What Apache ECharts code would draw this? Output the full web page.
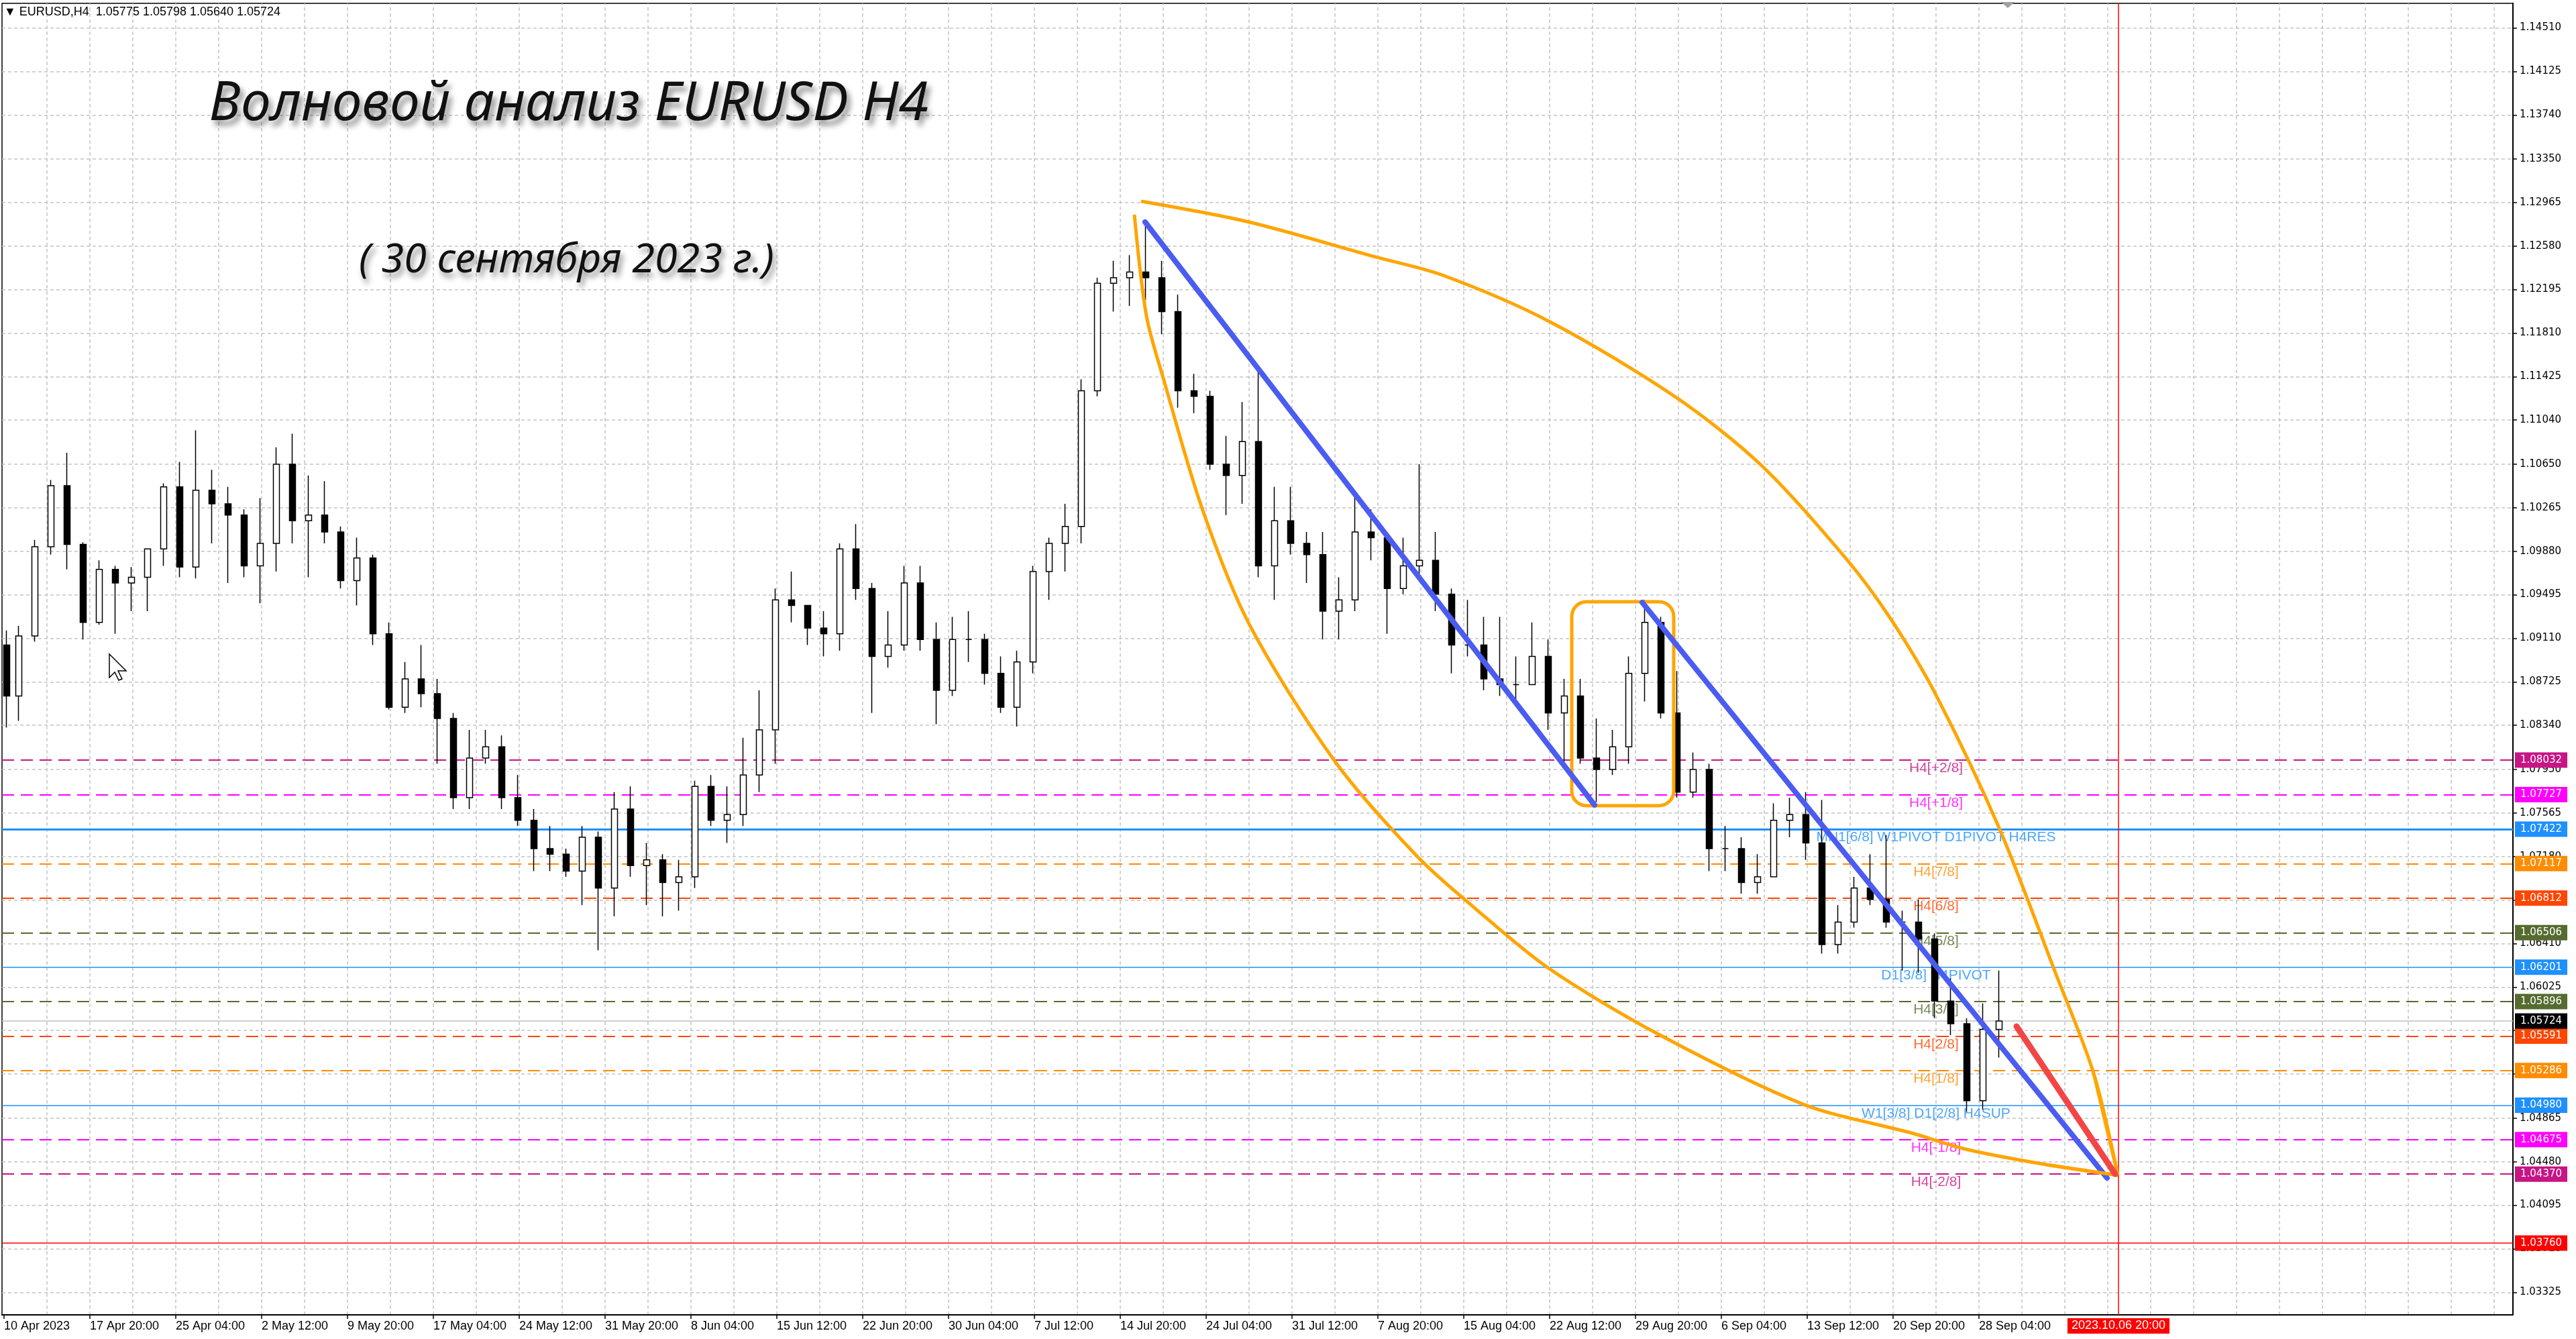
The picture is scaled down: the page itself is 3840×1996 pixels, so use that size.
<!DOCTYPE html>
<html>
<head>
<meta charset="utf-8">
<title>EURUSD H4</title>
<script src="https://cdn.jsdelivr.net/npm/echarts@6/dist/echarts.min.js"></script>
<style>
  html, body { margin: 0; padding: 0; background: #fff; }
  #chart { width: 3840px; height: 1996px; }
</style>
</head>
<body>
<div id="chart"></div>
<script>
// --- price data: one candle per trading day (H4 chart, 6 bars a day, first day from 12:00)
const days = [
  '10 Apr', '11 Apr', '12 Apr', '13 Apr', '14 Apr',
  '17 Apr', '18 Apr', '19 Apr', '20 Apr', '21 Apr',
  '24 Apr', '25 Apr', '26 Apr', '27 Apr', '28 Apr',
  '1 May', '2 May', '3 May', '4 May', '5 May',
  '8 May', '9 May', '10 May', '11 May', '12 May',
  '15 May', '16 May', '17 May', '18 May', '19 May',
  '22 May', '23 May', '24 May', '25 May', '26 May',
  '29 May', '30 May', '31 May', '1 Jun', '2 Jun',
  '5 Jun', '6 Jun', '7 Jun', '8 Jun', '9 Jun',
  '12 Jun', '13 Jun', '14 Jun', '15 Jun', '16 Jun',
  '19 Jun', '20 Jun', '21 Jun', '22 Jun', '23 Jun',
  '26 Jun', '27 Jun', '28 Jun', '29 Jun', '30 Jun',
  '3 Jul', '4 Jul', '5 Jul', '6 Jul', '7 Jul',
  '10 Jul', '11 Jul', '12 Jul', '13 Jul', '14 Jul',
  '17 Jul', '18 Jul', '19 Jul', '20 Jul', '21 Jul',
  '24 Jul', '25 Jul', '26 Jul', '27 Jul', '28 Jul',
  '31 Jul', '1 Aug', '2 Aug', '3 Aug', '4 Aug',
  '7 Aug', '8 Aug', '9 Aug', '10 Aug', '11 Aug',
  '14 Aug', '15 Aug', '16 Aug', '17 Aug', '18 Aug',
  '21 Aug', '22 Aug', '23 Aug', '24 Aug', '25 Aug',
  '28 Aug', '29 Aug', '30 Aug', '31 Aug', '1 Sep',
  '4 Sep', '5 Sep', '6 Sep', '7 Sep', '8 Sep',
  '11 Sep', '12 Sep', '13 Sep', '14 Sep', '15 Sep',
  '18 Sep', '19 Sep', '20 Sep', '21 Sep', '22 Sep',
  '25 Sep', '26 Sep', '27 Sep', '28 Sep', '29 Sep'
];
const open = [
  1.0905, 1.0860, 1.0913, 1.0992, 1.1046,
  1.0994, 1.0925, 1.0972, 1.0960, 1.0965,
  1.0990, 1.1045, 1.0974, 1.1042, 1.1030,
  1.1020, 1.0975, 1.0995, 1.1065, 1.1015,
  1.1020, 1.1005, 1.0962, 1.0982, 1.0915,
  1.0850, 1.0875, 1.0862, 1.0840, 1.0770,
  1.0805, 1.0815, 1.0770, 1.0750, 1.0725,
  1.0720, 1.0705, 1.0735, 1.0690, 1.0760,
  1.0710, 1.0715, 1.0695, 1.0700, 1.0780,
  1.0750, 1.0755, 1.0790, 1.0830, 1.0945,
  1.0940, 1.0920, 1.0915, 1.0990, 1.0955,
  1.0895, 1.0905, 1.0960, 1.0910, 1.0865,
  1.0910, 1.0910, 1.0880, 1.0850, 1.0890,
  1.0970, 1.0995, 1.1010, 1.1130, 1.1225,
  1.1230, 1.1235, 1.1230, 1.1200, 1.1130,
  1.1125, 1.1065, 1.1055, 1.1085, 1.0975,
  1.1015, 1.0995, 1.0985, 1.0935, 1.0945,
  1.1005, 1.1000, 1.0955, 1.0975, 1.0980,
  1.0950, 1.0905, 1.0905, 1.0875, 1.0870,
  1.0870, 1.0895, 1.0845, 1.0860, 1.0805,
  1.0795, 1.0815, 1.0880, 1.0925, 1.0845,
  1.0775, 1.0795, 1.0725, 1.0725, 1.0695,
  1.0700, 1.0750, 1.0755, 1.0730, 1.0640,
  1.0660, 1.0690, 1.0680, 1.0660, 1.0660,
  1.0645, 1.0590, 1.0570, 1.0502, 1.0565
];
const high = [
  1.0918, 1.0922, 1.0998, 1.1051, 1.1075,
  1.0996, 1.0980, 1.0975, 1.0974, 1.0990,
  1.1048, 1.1067, 1.1095, 1.1060, 1.1045,
  1.1025, 1.1035, 1.1080, 1.1092, 1.1055,
  1.1050, 1.1010, 1.1000, 1.0985, 1.0925,
  1.0890, 1.0905, 1.0875, 1.0845, 1.0830,
  1.0830, 1.0825, 1.0790, 1.0760, 1.0745,
  1.0725, 1.0745, 1.0740, 1.0775, 1.0780,
  1.0730, 1.0720, 1.0715, 1.0785, 1.0790,
  1.0780, 1.0823, 1.0865, 1.0955, 1.0970,
  1.0940, 1.0935, 1.0995, 1.1012, 1.0960,
  1.0935, 1.0975, 1.0975, 1.0925, 1.0930,
  1.0935, 1.0915, 1.0895, 1.0900, 1.0975,
  1.1000, 1.1030, 1.1140, 1.1230, 1.1245,
  1.1250, 1.1276, 1.1245, 1.1215, 1.1145,
  1.1130, 1.1090, 1.1120, 1.1150, 1.1045,
  1.1045, 1.1005, 1.1005, 1.0965, 1.1040,
  1.1025, 1.1005, 1.1000, 1.1065, 1.1005,
  1.0955, 1.0945, 1.0930, 1.0930, 1.0895,
  1.0925, 1.0910, 1.0875, 1.0875, 1.0840,
  1.0830, 1.0895, 1.0945, 1.0930, 1.0882,
  1.0810, 1.0800, 1.0745, 1.0735, 1.0720,
  1.0765, 1.0770, 1.0775, 1.0768, 1.0675,
  1.0700, 1.0720, 1.0737, 1.0670, 1.0680,
  1.0650, 1.0610, 1.0575, 1.0588, 1.0617
];
const low = [
  1.0832, 1.0838, 1.0908, 1.0985, 1.0972,
  1.0910, 1.0923, 1.0915, 1.0935, 1.0935,
  1.0975, 1.0965, 1.0964, 1.0995, 1.0960,
  1.0965, 1.0942, 1.0970, 1.0995, 1.0965,
  1.0995, 1.0955, 1.0940, 1.0905, 1.0848,
  1.0845, 1.0850, 1.0800, 1.0760, 1.0760,
  1.0800, 1.0760, 1.0745, 1.0705, 1.0705,
  1.0700, 1.0675, 1.0635, 1.0665, 1.0700,
  1.0675, 1.0665, 1.0670, 1.0690, 1.0745,
  1.0730, 1.0745, 1.0775, 1.0800, 1.0925,
  1.0905, 1.0895, 1.0900, 1.0945, 1.0845,
  1.0885, 1.0900, 1.0900, 1.0835, 1.0860,
  1.0890, 1.0870, 1.0845, 1.0833, 1.0880,
  1.0945, 1.0970, 1.0995, 1.1125, 1.1200,
  1.1205, 1.1210, 1.1180, 1.1115, 1.1110,
  1.1060, 1.1020, 1.1030, 1.0965, 1.0945,
  1.0985, 1.0960, 1.0910, 1.0910, 1.0935,
  1.0980, 1.0915, 1.0950, 1.0965, 1.0935,
  1.0880, 1.0895, 1.0865, 1.0860, 1.0855,
  1.0870, 1.0830, 1.0800, 1.0800, 1.0766,
  1.0790, 1.0800, 1.0855, 1.0840, 1.0770,
  1.0770, 1.0705, 1.0705, 1.0685, 1.0685,
  1.0700, 1.0735, 1.0715, 1.0632, 1.0632,
  1.0655, 1.0675, 1.0655, 1.0617, 1.0615,
  1.0575, 1.0560, 1.0492, 1.0494, 1.0540
];
const close = [
  1.0860, 1.0913, 1.0992, 1.1046, 1.0994,
  1.0925, 1.0972, 1.0960, 1.0965, 1.0990,
  1.1045, 1.0974, 1.1042, 1.1030, 1.1020,
  1.0975, 1.0995, 1.1065, 1.1015, 1.1020,
  1.1005, 1.0962, 1.0982, 1.0915, 1.0850,
  1.0875, 1.0862, 1.0840, 1.0770, 1.0805,
  1.0815, 1.0770, 1.0750, 1.0725, 1.0720,
  1.0705, 1.0735, 1.0690, 1.0760, 1.0710,
  1.0715, 1.0695, 1.0700, 1.0780, 1.0750,
  1.0755, 1.0790, 1.0830, 1.0945, 1.0940,
  1.0920, 1.0915, 1.0990, 1.0955, 1.0895,
  1.0905, 1.0960, 1.0910, 1.0865, 1.0910,
  1.0910, 1.0880, 1.0850, 1.0890, 1.0970,
  1.0995, 1.1010, 1.1130, 1.1225, 1.1230,
  1.1235, 1.1230, 1.1200, 1.1130, 1.1125,
  1.1065, 1.1055, 1.1085, 1.0975, 1.1015,
  1.0995, 1.0985, 1.0935, 1.0945, 1.1005,
  1.1000, 1.0955, 1.0975, 1.0980, 1.0950,
  1.0905, 1.0905, 1.0875, 1.0870, 1.0870,
  1.0895, 1.0845, 1.0860, 1.0805, 1.0795,
  1.0815, 1.0880, 1.0925, 1.0845, 1.0775,
  1.0795, 1.0725, 1.0725, 1.0695, 1.0700,
  1.0750, 1.0755, 1.0730, 1.0640, 1.0660,
  1.0690, 1.0680, 1.0660, 1.0660, 1.0645,
  1.0590, 1.0570, 1.0502, 1.0565, 1.05724
];

// --- axis ticks
const xTickLabels = [
  '10 Apr 2023', '17 Apr 20:00', '25 Apr 04:00', '2 May 12:00', '9 May 20:00',
  '17 May 04:00', '24 May 12:00', '31 May 20:00', '8 Jun 04:00', '15 Jun 12:00',
  '22 Jun 20:00', '30 Jun 04:00', '7 Jul 12:00', '14 Jul 20:00', '24 Jul 04:00',
  '31 Jul 12:00', '7 Aug 20:00', '15 Aug 04:00', '22 Aug 12:00', '29 Aug 20:00',
  '6 Sep 04:00', '13 Sep 12:00', '20 Sep 20:00', '28 Sep 04:00'
];
const yTicks = [
  1.14510, 1.14125, 1.13740, 1.13350, 1.12965, 1.12580, 1.12195, 1.11810,
  1.11425, 1.11040, 1.10650, 1.10265, 1.09880, 1.09495, 1.09110, 1.08725,
  1.08340, 1.07950, 1.07565, 1.07180, 1.06795, 1.06410, 1.06025, 1.05640,
  1.05255, 1.04865, 1.04480, 1.04095, 1.03710, 1.03325
];

// --- indicator levels
const levelValues = [1.08032, 1.07727, 1.07422, 1.07117, 1.06812, 1.06506, 1.06201,
  1.05896, 1.05591, 1.05286, 1.04980, 1.04675, 1.04370];
const levelNames = ['H4[+2/8]', 'H4[+1/8]', 'MN1[6/8] W1PIVOT D1PIVOT H4RES', 'H4[7/8]',
  'H4[6/8]', 'H4[5/8]', 'D1[3/8] H4PIVOT', 'H4[3/8]', 'H4[2/8]', 'H4[1/8]',
  'W1[3/8] D1[2/8] H4SUP', 'H4[-1/8]', 'H4[-2/8]'];
const bidPrice = 1.05724;
const stopPrice = 1.03760;
const futureBar = 788;
const futureLabel = '2023.10.06 20:00';

// --- drawn objects (bar index, price)
const trendA = [[425.25, 1.12792], [592.75, 1.07635]];
const trendB = [[610.5, 1.09427], [783.75, 1.04336]];
const boxCorners = [[584.25, 1.09433, 622.25, 1.07629]];
const arcUpper = [[423.75, 1.12976], [464, 1.12792], [510.25, 1.12489], [536, 1.12323],
  [576.25, 1.11908], [623, 1.11243], [655, 1.10638], [686.75, 1.09807], [703.5, 1.09267],
  [720.25, 1.08596], [743.5, 1.07433], [764.5, 1.06151], [778.75, 1.05261], [787.75, 1.04359]];
const arcLower = [[421.25, 1.12857], [425.75, 1.11961], [432.25, 1.11392], [446.5, 1.10258],
  [464, 1.09237], [496, 1.08021], [527, 1.07172], [548.5, 1.06715], [575.5, 1.06193],
  [616.25, 1.05611], [670.5, 1.04988], [711, 1.04733], [731, 1.04591], [761, 1.04454],
  [787.75, 1.04359]];
const redArrow = [[750, 1.05677], [786.75, 1.04371]];

// colours of each level
const look = {
  '+2/8': '#C71585', '-2/8': '#C71585', '+1/8': '#FF00FF', '-1/8': '#FF00FF',
  '7/8': '#FF8C00', '1/8': '#FF8C00', '6/8': '#FF4500', '2/8': '#FF4500',
  '5/8': '#556B2F', '3/8': '#556B2F'
};
function levelColor(name) {
  const m = name.match(/^H4\[(.+)\]$/);
  return m ? look[m[1]] : '#1E90FF';
}

const candles = days.map((d, k) => [k === 0 ? 1 : 6 * k - 0.5, open[k], close[k], low[k], high[k]]);
const xTickPos = xTickLabels.map((t, k) => 32 * k);
const vGrid = [];
for (let i = 16; i < 935; i += 16) vGrid.push(i);

const boxFont = { fontFamily: 'DejaVu Sans', fontSize: 15, lineHeight: 15, color: '#fff', padding: [4, 8, 4, 8] };

const levelMarks = levelValues.map((v, j) => {
  const c = levelColor(levelNames[j]);
  const dashed = levelNames[j].indexOf('H4[') === 0;
  return {
    yAxis: v,
    lineStyle: { color: c, width: dashed ? 2 : (j === 2 ? 3 : 1.5), type: dashed ? [18, 10] : 'solid' },
    label: Object.assign({ show: true, position: 'end', distance: 3, formatter: v.toFixed(5), backgroundColor: c }, boxFont)
  };
});
levelMarks.push({
  yAxis: bidPrice,
  lineStyle: { color: '#c0c0c0', width: 1.5, type: 'solid' },
  label: Object.assign({ show: true, position: 'end', distance: 3, formatter: bidPrice.toFixed(5), backgroundColor: '#000' }, boxFont)
});
levelMarks.push({
  yAxis: stopPrice,
  lineStyle: { color: '#ff0000', width: 1.5, type: 'solid' },
  label: Object.assign({ show: true, position: 'end', distance: 3, formatter: stopPrice.toFixed(5), backgroundColor: '#ff0000' }, boxFont)
});
levelMarks.push({
  xAxis: futureBar,
  lineStyle: { color: '#ff0000', width: 1.5, type: 'solid' },
  label: {
    show: true, position: 'start', distance: 5, formatter: futureLabel, backgroundColor: '#ff0000',
    color: '#fff', fontFamily: 'Liberation Sans', fontSize: 18, lineHeight: 17, padding: [3, 6, 3, 6]
  }
});

const chart = echarts.init(document.getElementById('chart'), null, { renderer: 'canvas' });
chart.setOption({
  animation: false,
  backgroundColor: '#ffffff',
  title: [
    {
      text: 'Волновой анализ EURUSD H4', left: 312, top: 116, padding: 0,
      textStyle: {
        fontFamily: 'Noto Sans', fontStyle: 'italic', fontWeight: 'normal', fontSize: 80, color: '#111',
        textShadowColor: 'rgba(0,0,0,0.45)', textShadowBlur: 8, textShadowOffsetX: 5, textShadowOffsetY: 8
      }
    },
    {
      text: '( 30 сентября 2023 г.)', left: 535, top: 358, padding: 0,
      textStyle: {
        fontFamily: 'Noto Sans', fontStyle: 'italic', fontWeight: 'normal', fontSize: 61, color: '#111',
        textShadowColor: 'rgba(0,0,0,0.45)', textShadowBlur: 8, textShadowOffsetX: 4, textShadowOffsetY: 7
      }
    },
    {
      text: '▼ EURUSD,H4  1.05775 1.05798 1.05640 1.05724', left: 6, top: 9, padding: 0,
      textStyle: { fontFamily: 'Liberation Sans', fontWeight: 'normal', fontSize: 18, color: '#000' }
    }
  ],
  graphic: [
    {
      type: 'polygon', z: 100, silent: true,
      shape: { points: [[163, 975], [163, 1010], [171, 1002], [177, 1014], [182, 1012], [176, 1000], [188, 1000]] },
      style: { fill: '#fff', stroke: '#000', lineWidth: 1.5 }
    },
    {
      type: 'polygon', z: 100, silent: true,
      shape: { points: [[2983, 3], [3003, 3], [2993, 12]] },
      style: { fill: '#a0a0a0' }
    }
  ],
  grid: { left: 3, right: 94, top: 5, bottom: 36, show: true, borderColor: '#000', borderWidth: 1.5, backgroundColor: '#fff' },
  xAxis: {
    type: 'value', min: -0.75, max: 935,
    axisLine: { show: true, onZero: false, lineStyle: { color: '#000', width: 2 } },
    axisTick: { show: true, customValues: xTickPos, length: 6, lineStyle: { color: '#000', width: 1.5 } },
    axisLabel: {
      customValues: xTickPos, formatter: v => xTickLabels[Math.round(v / 32)], align: 'left',
      fontFamily: 'Liberation Sans', fontSize: 18, color: '#000', margin: 8
    },
    splitLine: { show: false }
  },
  yAxis: {
    type: 'value', position: 'right', min: 1.031249, max: 1.147266,
    axisLine: { show: true, onZero: false, lineStyle: { color: '#000', width: 2 } },
    axisTick: { show: true, customValues: yTicks, length: 6, lineStyle: { color: '#000', width: 1.5 } },
    axisLabel: {
      customValues: yTicks, formatter: v => v.toFixed(5),
      fontFamily: 'DejaVu Sans', fontSize: 15, color: '#000', margin: 10
    },
    splitLine: { show: false }
  },
  series: [
    {
      name: 'grid', type: 'line', data: [], silent: true,
      markLine: {
        silent: true, symbol: 'none', z: 0, precision: 6, label: { show: false },
        lineStyle: { color: '#c4c4c4', width: 1.5, type: [5, 4] },
        data: yTicks.map(v => ({ yAxis: v })).concat(vGrid.map(i => ({ xAxis: i })))
      }
    },
    {
      name: 'levels', type: 'line', data: [], silent: true,
      markLine: { silent: true, symbol: 'none', z: 1, precision: 6, data: levelMarks }
    },
    {
      name: 'levelNames', type: 'scatter', silent: true, symbolSize: 0, z: 1,
      data: levelValues.map((v, j) => ({
        value: [720, v, levelNames[j]],
        label: { color: levelColor(levelNames[j]) }
      })),
      label: {
        show: true, position: 'bottom', distance: 2, formatter: p => p.data.value[2],
        fontFamily: 'Liberation Sans', fontSize: 21
      }
    },
    {
      name: 'EURUSD', type: 'candlestick', silent: true, z: 3, barWidth: 10,
      data: candles,
      itemStyle: { color: '#ffffff', color0: '#000000', borderColor: '#000000', borderColor0: '#000000', borderWidth: 1.5 }
    },
    {
      name: 'arcUpper', type: 'line', data: arcUpper, z: 4, silent: true, showSymbol: false,
      smooth: 0.3, clip: false,
      lineStyle: { color: '#FFA500', width: 5 },
      markLine: {
        silent: true, symbol: ['none', 'arrow'], symbolSize: [0, 24], z: 6, precision: 6, label: { show: false },
        lineStyle: { color: '#FFA500', width: 5, type: 'solid' },
        data: [[{ coord: arcUpper[arcUpper.length - 2] }, { coord: arcUpper[arcUpper.length - 1] }]]
      }
    },
    {
      name: 'arcLower', type: 'line', data: arcLower, z: 4, silent: true, showSymbol: false,
      smooth: 0.3, clip: false,
      lineStyle: { color: '#FFA500', width: 5 },
      markLine: {
        silent: true, symbol: ['none', 'arrow'], symbolSize: [0, 24], z: 6, precision: 6, label: { show: false },
        lineStyle: { color: '#FFA500', width: 5, type: 'solid' },
        data: [[{ coord: arcLower[arcLower.length - 2] }, { coord: arcLower[arcLower.length - 1] }]]
      }
    },
    {
      name: 'trendA', type: 'line', data: trendA, z: 5, silent: true, showSymbol: false,
      lineStyle: { color: '#4b5cf0', width: 8, cap: 'round' }
    },
    {
      name: 'trendB', type: 'line', data: trendB, z: 5, silent: true, showSymbol: false,
      lineStyle: { color: '#4b5cf0', width: 8, cap: 'round' }
    },
    {
      name: 'box', type: 'custom', z: 5, silent: true, data: boxCorners,
      encode: { x: [0, 2], y: [1, 3] },
      renderItem: (params, api) => {
        const a = api.coord([api.value(0), api.value(1)]);
        const b = api.coord([api.value(2), api.value(3)]);
        return {
          type: 'rect',
          shape: { x: a[0], y: a[1], width: b[0] - a[0], height: b[1] - a[1], r: 22 },
          style: { fill: 'none', stroke: '#FFA500', lineWidth: 5 }
        };
      }
    },
    {
      name: 'arrow', type: 'line', data: [], silent: true,
      markLine: {
        silent: true, symbol: ['none', 'arrow'], symbolSize: [0, 30], z: 7, precision: 6, label: { show: false },
        lineStyle: { color: '#f24646', width: 9, type: 'solid', cap: 'round' },
        data: [[{ coord: redArrow[0] }, { coord: redArrow[1] }]]
      }
    }
  ]
});
</script>
</body>
</html>
